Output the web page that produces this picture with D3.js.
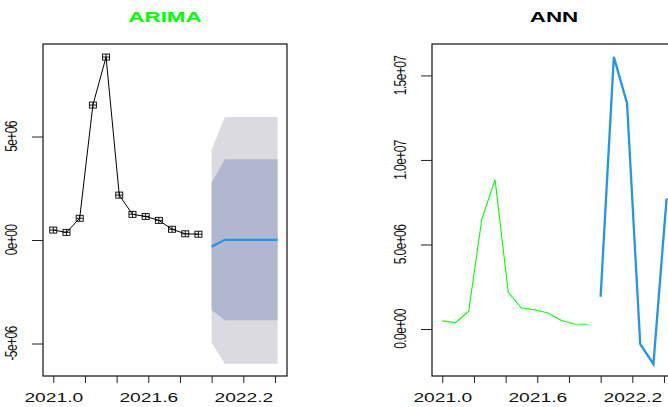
<!DOCTYPE html>
<html>
<head>
<meta charset="utf-8">
<script src="https://cdn.jsdelivr.net/npm/d3@7"></script>
<style>
  body { margin: 0; background: #fff; }
  text { font-family: "Liberation Sans", Arial, sans-serif; }
</style>
</head>
<body>
<div id="chart"></div>
<script>
// monthly series, 2021.0 .. 2021.917
const actual = [0.48, 0.37, 1.05, 6.52, 8.84, 2.17, 1.24, 1.14, 0.95, 0.52, 0.30, 0.28].map(v => v * 1e6);
// forecasts, 2022.0 .. 2022.417
const arimaMean = [-0.32, 0.01, 0.01, 0.01, 0.01, 0.01].map(v => v * 1e6);
const arimaLo80 = [-3.38, -3.88, -3.88, -3.88, -3.88, -3.88].map(v => v * 1e6);
const arimaHi80 = [2.77, 3.90, 3.90, 3.90, 3.90, 3.90].map(v => v * 1e6);
const arimaLo95 = [-4.96, -5.98, -5.98, -5.98, -5.98, -5.98].map(v => v * 1e6);
const arimaHi95 = [4.35, 5.94, 5.94, 5.94, 5.94, 5.94].map(v => v * 1e6);
const annFc = [1.91, 16.1, 13.36, -0.9, -2.07, 7.73].map(v => v * 1e6);

const xTicks = [2021.0, 2021.2, 2021.4, 2021.6, 2021.8, 2022.0, 2022.2, 2022.4];
const xLabels = ["2021.0", "2021.6", "2022.2"];
const yTicksArima = [-5e6, 0, 5e6];
const yLabelsArima = ["-5e+06", "0e+00", "5e+06"];
const yTicksAnn = [0, 5e6, 1e7, 1.5e7];
const yLabelsAnn = ["0.0e+00", "5.0e+06", "1.0e+07", "1.5e+07"];

const tActual = actual.map((d, i) => 2021 + i / 12);
const tFc = arimaMean.map((d, i) => 2022 + i / 12);

const W = 668, H = 407;
const stretch = 1.6; // text in the reference is wide

const svg = d3.select("#chart").append("svg")
  .attr("width", W).attr("height", H);

function panel(opt) {
  const x = d3.scaleLinear().domain([2020.935, 2022.476]).range([opt.left, opt.left + 244]);
  const y = d3.scaleLinear().domain(opt.yDomain).range([376, 44]);
  const g = svg.append("g");

  // title
  g.append("text")
    .attr("transform", "translate(" + (opt.left + 122) + ",22) scale(" + stretch + ",1)")
    .attr("text-anchor", "middle")
    .attr("font-size", 14).attr("font-weight", "bold")
    .attr("fill", opt.titleColor)
    .text(opt.title);

  if (opt.draw) opt.draw(g, x, y);

  // box
  g.append("rect")
    .attr("x", opt.left).attr("y", 44)
    .attr("width", 244).attr("height", 332)
    .attr("fill", "none").attr("stroke", "#111").attr("stroke-width", 1.2);

  // x axis
  const xa = g.append("g").attr("transform", "translate(0,376)")
    .call(d3.axisBottom(x).tickValues(xTicks).tickSize(7).tickSizeOuter(0)
      .tickFormat(d => {
        const s = d.toFixed(1);
        return xLabels.includes(s) ? s : "";
      }));
  xa.select(".domain").remove();
  xa.selectAll("line").attr("stroke", "#222");
  xa.selectAll("text")
    .attr("font-size", 12).attr("fill", "#111")
    .attr("y", 0).attr("dy", 0)
    .attr("transform", "translate(0,26) scale(" + stretch + ",1)");

  // y axis
  const ya = g.append("g").attr("transform", "translate(" + opt.left + ",0)")
    .call(d3.axisLeft(y).tickValues(opt.yTicks).tickSize(11).tickFormat(""));
  ya.select(".domain").remove();
  ya.selectAll("line").attr("stroke", "#222");
  g.append("g").selectAll("text")
    .data(opt.yTicks)
    .enter().append("text")
    .attr("transform", d => "translate(" + (opt.left - 26) + "," + y(d) + ") rotate(-90) scale(1,1.3)")
    .attr("text-anchor", "middle")
    .attr("font-size", 12).attr("fill", "#111")
    .attr("letter-spacing", -0.6)
    .text((d, i) => opt.yLabels[i]);
}

// ARIMA panel
panel({
  left: 43, title: "ARIMA", titleColor: "#00ff00",
  yDomain: [-6.57e6, 9.47e6], yTicks: yTicksArima, yLabels: yLabelsArima,
  draw: (g, x, y) => {
    const band = (lo, hi, col) => {
      const area = d3.area()
        .x((d, i) => x(tFc[i]))
        .y0((d, i) => y(lo[i]))
        .y1((d, i) => y(hi[i]));
      g.append("path").datum(tFc).attr("d", area).attr("fill", col);
    };
    band(arimaLo95, arimaHi95, "#dadae0");
    band(arimaLo80, arimaHi80, "#b1b6d1");

    const line = d3.line().x((d, i) => x(tActual[i])).y(d => y(d));
    g.append("path").datum(actual).attr("d", line)
      .attr("fill", "none").attr("stroke", "#000").attr("stroke-width", 1);

    const pts = g.append("g").selectAll("g").data(actual).enter().append("g")
      .attr("transform", (d, i) => "translate(" + x(tActual[i]) + "," + y(d) + ")");
    pts.append("rect").attr("x", -3.5).attr("y", -3).attr("width", 7).attr("height", 6)
      .attr("fill", "none").attr("stroke", "#000").attr("stroke-width", 0.9);
    pts.append("path").attr("d", "M-3.5,0H3.5M0,-3V3")
      .attr("stroke", "#000").attr("stroke-width", 0.9);

    const fl = d3.line().x((d, i) => x(tFc[i])).y(d => y(d));
    g.append("path").datum(arimaMean).attr("d", fl)
      .attr("fill", "none").attr("stroke", "#2297e6").attr("stroke-width", 2.3);
  }
});

// ANN panel
panel({
  left: 432, title: "ANN", titleColor: "#000",
  yDomain: [-2.78e6, 16.86e6], yTicks: yTicksAnn, yLabels: yLabelsAnn,
  draw: (g, x, y) => {
    const line = d3.line().x((d, i) => x(tActual[i])).y(d => y(d));
    g.append("path").datum(actual).attr("d", line)
      .attr("fill", "none").attr("stroke", "#00ff00").attr("stroke-width", 1.1);
    const fl = d3.line().x((d, i) => x(tFc[i])).y(d => y(d));
    g.append("path").datum(annFc).attr("d", fl)
      .attr("fill", "none").attr("stroke", "#2297e6").attr("stroke-width", 2.3);
  }
});
</script>
</body>
</html>
